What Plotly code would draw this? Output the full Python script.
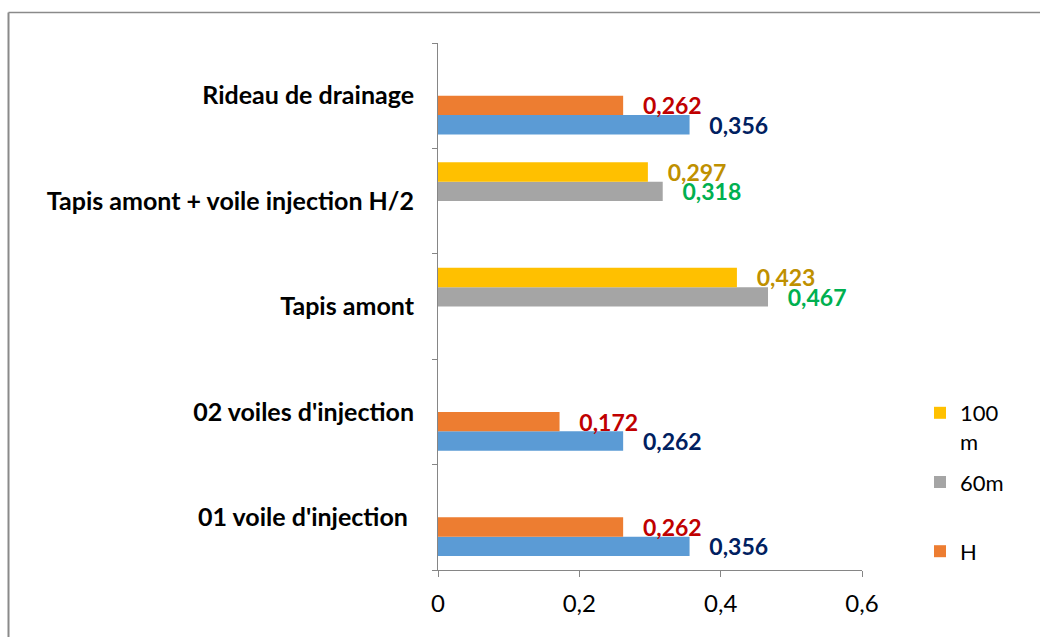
import plotly.graph_objects as go

# Categories, listed bottom to top
categories = [
    "01 voile d'injection\u00a0",
    "02 voiles d'injection",
    "Tapis amont",
    "Tapis amont + voile injection H/2",
    "Rideau de drainage",
]

# Series values (None where the configuration has no value)
serie_bleue = [0.356, 0.262, None, None, 0.356]
serie_H = [0.262, 0.172, None, None, 0.262]
serie_60m = [None, None, 0.467, 0.318, None]
serie_100m = [None, None, 0.423, 0.297, None]

x_ticks = [0, 0.2, 0.4, 0.6]
x_tick_labels = ["0", "0,2", "0,4", "0,6"]

FONT = "Lato"
PAD = "\u00a0\u00a0\u00a0"


def labels(values):
    return [None if v is None else PAD + f"{v:.3f}".replace(".", ",") for v in values]


series = [
    # (name, values, bar colour, label colour, legend rank)
    ("", serie_bleue, "#5B9BD5", "#002060", None),
    ("H", serie_H, "#ED7D31", "#C00000", 3),
    ("60m<br>\u00a0", serie_60m, "#A5A5A5", "#00B050", 2),
    ("100<br>m", serie_100m, "#FFC000", "#BF9000", 1),
]

fig = go.Figure()
for i, (name, vals, color, lcolor, rank) in enumerate(series):
    fig.add_trace(go.Bar(
        y=categories,
        x=vals,
        orientation="h",
        name=name,
        marker=dict(color=color, line=dict(width=0)),
        text=labels(vals),
        textposition="outside",
        textfont=dict(family=FONT, size=23, color=lcolor, weight="bold"),
        constraintext="none",
        cliponaxis=False,
        showlegend=rank is not None,
        legendrank=rank if rank is not None else 1000,
        legendgroup=f"g{i}",
        hoverinfo="skip",
    ))

W, H = 1040, 637
L, R, T, B = 438, 178, 43, 67
pw, ph = W - L - R, H - T - B


def px_to_paper_x(px):
    return (px - L) / pw


def px_to_paper_y(py):
    return (H - B - py) / ph


fig.update_layout(
    width=W,
    height=H,
    margin=dict(l=L, r=R, t=T, b=B, pad=0),
    paper_bgcolor="white",
    plot_bgcolor="white",
    barmode="group",
    bargap=0.265,
    bargroupgap=0,
    separators=", ",
    font=dict(family=FONT, color="black"),
    legend=dict(
        x=px_to_paper_x(920),
        xanchor="left",
        y=px_to_paper_y(392),
        yanchor="top",
        traceorder="grouped",
        tracegroupgap=9,
        valign="top",
        font=dict(family=FONT, size=22, color="black"),
        bgcolor="rgba(0,0,0,0)",
    ),
    xaxis=dict(
        range=[0, 0.6],
        tickvals=x_ticks,
        ticktext=x_tick_labels,
        ticks="outside",
        ticklen=6,
        tickcolor="#868686",
        showline=True,
        linecolor="#868686",
        linewidth=1,
        showgrid=False,
        zeroline=False,
        ticklabelstandoff=6,
        tickfont=dict(family=FONT, size=24, color="black"),
    ),
    yaxis=dict(
        type="category",
        categoryorder="array",
        categoryarray=categories,
        tickson="boundaries",
        ticks="outside",
        ticklen=5,
        tickcolor="#868686",
        showline=True,
        linecolor="#868686",
        linewidth=1,
        showgrid=False,
        zeroline=False,
        ticklabelstandoff=18,
        tickfont=dict(family=FONT, size=25, color="black", weight="bold"),
    ),
    shapes=[
        # chart frame (top and left edges)
        dict(type="line", xref="paper", yref="paper",
             x0=px_to_paper_x(8.5), x1=px_to_paper_x(1045),
             y0=px_to_paper_y(12.5), y1=px_to_paper_y(12.5),
             line=dict(color="#8A8A8A", width=1.3)),
        dict(type="line", xref="paper", yref="paper",
             x0=px_to_paper_x(8.5), x1=px_to_paper_x(8.5),
             y0=px_to_paper_y(12.5), y1=px_to_paper_y(645),
             line=dict(color="#8A8A8A", width=2)),
    ],
)

fig.write_html("out.html")
